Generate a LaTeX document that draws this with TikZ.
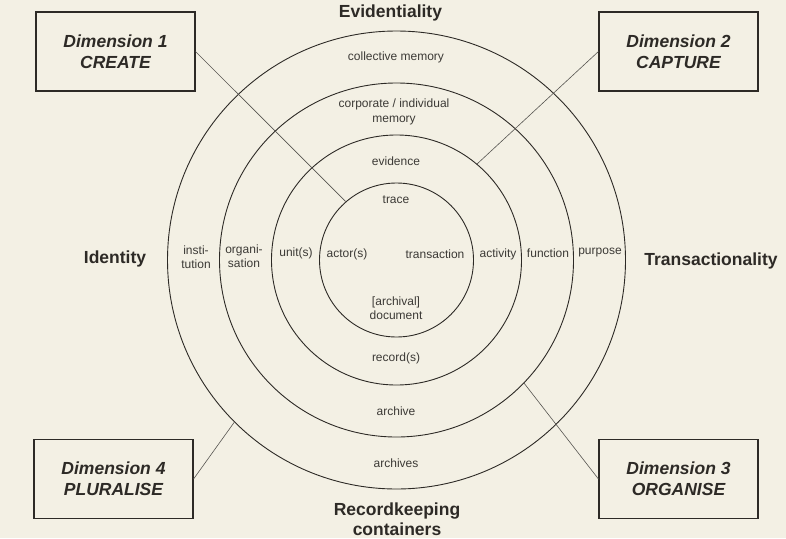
\documentclass[tikz,border=0pt]{standalone}
\usepackage{fontspec}
\setmainfont{Liberation Sans}
\definecolor{bgc}{RGB}{243,240,228}
\definecolor{ink}{RGB}{45,42,38}
\definecolor{lbl}{RGB}{60,58,54}
\begin{document}
\begin{tikzpicture}[x=1pt,y=-1pt,
  ring/.style={circle,draw=ink,line width=0.9pt,inner sep=0pt},
  dimbox/.style={draw=ink,line width=1.1pt,minimum width=159pt,minimum height=79pt,inner sep=0pt,align=center,
    font=\fontsize{17.5}{21}\selectfont\bfseries\itshape,text=ink},
  small/.style={font=\fontsize{12}{14.5}\selectfont,text=lbl,align=center,inner sep=0pt},
  big/.style={font=\fontsize{17.5}{20}\selectfont\bfseries,text=ink,align=center,inner sep=0pt},
  conn/.style={draw=ink!80,line width=0.6pt}]
\useasboundingbox (0,0) rectangle (786,538);
\fill[bgc] (0,0) rectangle (786,538);
% rings
\node[ring,minimum size=458pt] (c4) at (396.5,260) {};
\node[ring,minimum size=354pt] (c3) at (396.5,260) {};
\node[ring,minimum size=250pt] (c2) at (396.5,260) {};
\node[ring,minimum size=154pt] (c1) at (396.5,260) {};
% boxes
\node[dimbox] (b1) at (115.5,51.5) {Dimension 1\\CREATE};
\node[dimbox] (b2) at (678.5,51.5) {Dimension 2\\CAPTURE};
\node[dimbox] (b3) at (678.5,479) {Dimension 3\\ORGANISE};
\node[dimbox] (b4) at (113.5,479) {Dimension 4\\PLURALISE};
% connectors
\draw[conn] (b1.east) -- (c1.131);
\draw[conn] (b2.west) -- (c2.50.7);
\draw[conn] (b3.west) -- (c3.-44.7);
\draw[conn] (b4.east) -- (c4.-135.3);
% axis labels
\node[big] (evid) at (390.5,12.5) {Evidentiality};
\node[big] (ident) at (115,259) {Identity};
\node[big] (trans) at (711,261) {Transactionality};
\node[big,font=\fontsize{17.5}{19.5}\selectfont\bfseries] (rkc) at (397,519) {Recordkeeping\\containers};
% ring labels
\node[small] (l1) at (396,57) {collective memory};
\node[small] (l2) at (394,112) {corporate / individual\\memory};
\node[small] (l3) at (396,161) {evidence};
\node[small] (l4) at (396,200) {trace};
\node[small] (l5) at (347,254) {actor(s)};
\node[small] (l6) at (435,254) {transaction};
\node[small] (l7) at (396,308) {[archival]\\document};
\node[small] (l8) at (396,358) {record(s)};
\node[small] (l9) at (396,411) {archive};
\node[small] (l10) at (396,463) {archives};
\node[small] (l11) at (296,253) {unit(s)};
\node[small] (l12) at (244,256) {organi-\\sation};
\node[small] (l13) at (196,257) {insti-\\tution};
\node[small] (l14) at (498,254) {activity};
\node[small] (l15) at (548,253) {function};
\node[small] (l16) at (600,253) {purpose};
\end{tikzpicture}
\end{document}
